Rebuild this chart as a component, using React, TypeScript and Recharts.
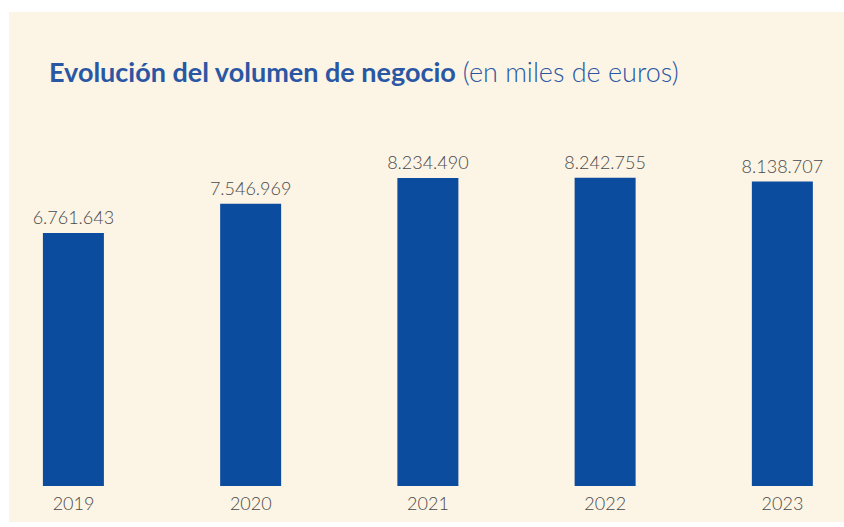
import { BarChart, Bar, XAxis, YAxis, LabelList } from "recharts";

const years = ["2019", "2020", "2021", "2022", "2023"];
const volumen = [6761643, 7546969, 8234490, 8242755, 8138707];

const data = years.map((y, i) => ({ year: y, value: volumen[i] }));

// thousands with dots, spanish style
const fmt = (v: number) => String(v).replace(/\B(?=(\d{3})+(?!\d))/g, ".");

export default function App() {
  return (
    <div style={{ position: "absolute", left: 0, top: 0, width: 844, height: 527, background: "#fff", overflow: "hidden" }}>
      <div style={{ position: "absolute", left: 9, top: 12, width: 835, height: 510, background: "#FCF4E5" }} />
      <div
        style={{
          position: "absolute",
          left: 49,
          top: 58,
          fontFamily: "Lato",
          fontSize: 27,
          lineHeight: "27px",
          color: "#2A57A3",
          whiteSpace: "nowrap",
        }}
      >
        <span style={{ fontWeight: 700 }}>Evolución del volumen de negocio</span>{" "}
        <span style={{ fontWeight: 300 }}>(en miles de euros)</span>
      </div>
      <div style={{ position: "absolute", left: 0, top: 0 }}>
        <BarChart
          width={844}
          height={527}
          data={data}
          margin={{ top: 149.4, right: -27.1, left: -15.1, bottom: 0 }}
        >
          <YAxis hide domain={[0, 9000000]} />
          <XAxis
            dataKey="year"
            height={41}
            axisLine={false}
            tickLine={false}
            tickSize={0}
            tickMargin={11}
            tick={{ fill: "#4a4a4a", fontSize: 18, fontFamily: "Lato", fontWeight: 300 }}
          />
          <Bar dataKey="value" fill="#0C4C9F" barSize={61} isAnimationActive={false}>
            <LabelList
              dataKey="value"
              position="top"
              offset={9}
              formatter={(v: any) => fmt(Number(v))}
              style={{ fill: "#4a4a4a", fontSize: 18, fontFamily: "Lato", fontWeight: 300 }}
            />
          </Bar>
        </BarChart>
      </div>
    </div>
  );
}
